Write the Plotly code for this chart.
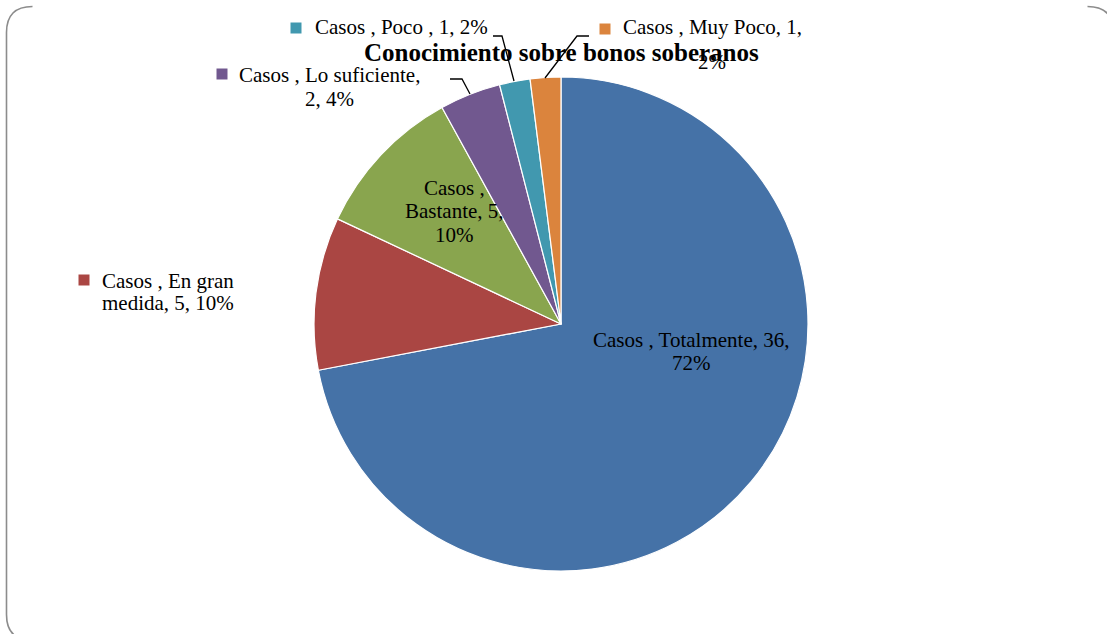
import plotly.graph_objects as go

W, H = 1107, 634

# ---- data ----
series_name = "Casos"
categories = ["Totalmente", "En gran medida", "Bastante", "Lo suficiente", "Poco ", "Muy Poco"]
values = [36, 5, 5, 2, 1, 1]
percents = [72, 10, 10, 4, 2, 2]
colors = ["#4572A7", "#AA4643", "#89A54E", "#71588F", "#4198AF", "#DB843D"]
title_text = "Conocimiento sobre bonos soberanos"

# ---- layout helpers (pixel -> paper) ----
def px(x):
    return x / W

def py(y):
    return 1 - y / H

FONT = "Liberation Serif"
FS = 21

# pie placement
cx, cy, r = 561, 324, 247

fig = go.Figure()
fig.add_trace(go.Pie(
    labels=categories,
    values=values,
    sort=False,
    direction="clockwise",
    rotation=0,
    marker=dict(colors=colors, line=dict(color="white", width=1.2)),
    textinfo="none",
    hoverinfo="label+value+percent",
    showlegend=False,
    domain=dict(x=[px(cx - r), px(cx + r)], y=[py(cy + r), py(cy - r)]),
))

# label text lines built from data
full = [f"{series_name} , {c}, {v}, {p}%" for c, v, p in zip(categories, values, percents)]
# word counts per line
breaks = [[4], [4], [2, 4], [4], None, [5]]

def split_lines(s, br):
    words = s.split(" ")
    if br is None:
        return [s]
    out, start = [], 0
    for b in br:
        out.append(" ".join(words[start:b]))
        start = b
    out.append(" ".join(words[start:]))
    return out

lines = [split_lines(s, b) for s, b in zip(full, breaks)]

# placement per label: (x, anchor, [y of each line]), key square (x,y) or None
place = [
    (691, "center", [340, 363], None),
    (100, "left", [281, 303], (84, 280)),
    (454, "center", [188, 211, 235], None),
    (329, "center", [75, 99], (222, 74)),
    (313, "left", [27], (296, 28)),
    (712, "center", [27, 62], (605, 29)),
]

annotations = []
shapes = []
for i, (x, anch, ys, key) in enumerate(place):
    for ln, yy in zip(lines[i], ys):
        annotations.append(dict(
            x=px(x), y=py(yy), xref="paper", yref="paper",
            text=ln, showarrow=False, xanchor=anch, yanchor="middle",
            font=dict(family=FONT, size=FS, color="black"),
        ))
    if key is not None:
        kx, ky = key
        shapes.append(dict(type="rect", xref="paper", yref="paper",
                           x0=px(kx - 5.5), x1=px(kx + 5.5), y0=py(ky + 5.5), y1=py(ky - 5.5),
                           fillcolor=colors[i], line=dict(width=0)))

# title
annotations.append(dict(
    x=px(561), y=py(52), xref="paper", yref="paper",
    text=f"<b>{title_text}</b>", showarrow=False, xanchor="center", yanchor="middle",
    font=dict(family=FONT, size=25, color="black"),
))

# leader lines
def path(pts):
    return "M " + " L ".join(f"{px(a)},{py(b)}" for a, b in pts)

leaders = [
    [(450, 79), (462, 79), (470, 94)],
    [(493, 36), (502, 36), (514, 81)],
    [(589, 36), (577, 36), (545, 78)],
]
for pts in leaders:
    shapes.append(dict(type="path", xref="paper", yref="paper", path=path(pts),
                       line=dict(color="black", width=1.3)))

# chart area border (rounded, partly cut by the frame)
border = "#8c8c8c"
shapes.append(dict(type="path", xref="paper", yref="paper",
                   path=f"M {px(32.5)},{py(6.5)} Q {px(6.5)},{py(6.5)} {px(6.5)},{py(32.5)} "
                        f"L {px(6.5)},{py(614.5)} Q {px(6.5)},{py(640.5)} {px(32.5)},{py(640.5)}",
                   line=dict(color=border, width=1.6)))
shapes.append(dict(type="path", xref="paper", yref="paper",
                   path=f"M {px(1087.5)},{py(6.5)} Q {px(1113.5)},{py(6.5)} {px(1113.5)},{py(32.5)}",
                   line=dict(color=border, width=1.6)))

fig.update_layout(
    width=W, height=H,
    margin=dict(l=0, r=0, t=0, b=0, pad=0),
    paper_bgcolor="white", plot_bgcolor="white",
    annotations=annotations,
    shapes=shapes,
    showlegend=False,
)

fig.write_html("out.html",
               config={"displayModeBar": False},
               post_script="document.body.style.margin='0px';document.body.style.overflow='hidden';")
